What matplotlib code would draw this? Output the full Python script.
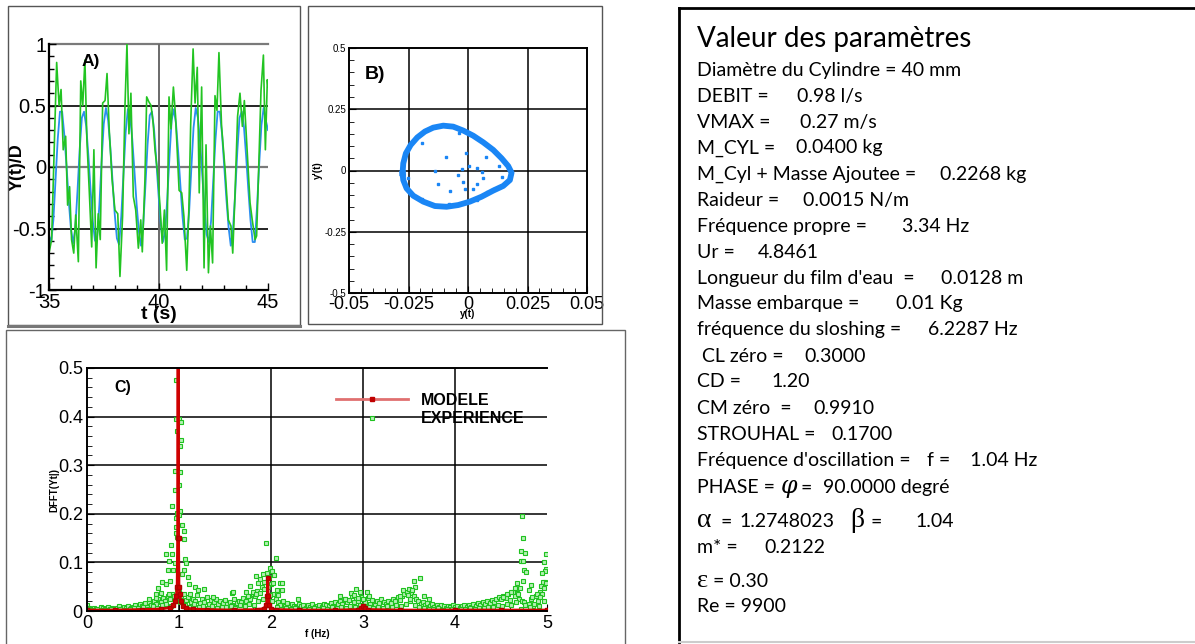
import numpy as np
import matplotlib.pyplot as plt
from matplotlib.patches import Rectangle
from matplotlib.lines import Line2D
from matplotlib.ticker import MultipleLocator

plt.rcParams['font.family'] = ['Liberation Sans', 'DejaVu Sans']

# ==========================
# Données A) : Y(t)/D
# ==========================
t_model = np.linspace(35, 45, 101)
y_model = [-0.56, -0.61, -0.43, -0.10, 0.23, 0.45, 0.45, 0.26, 0.01, -0.27,
           -0.50, -0.62, -0.50, -0.20, 0.14, 0.40, 0.45, 0.33, 0.09, -0.19,
           -0.44, -0.60, -0.56, -0.31, 0.04, 0.35, 0.48, 0.38, 0.16, -0.11,
           -0.38, -0.58, -0.63, -0.40, -0.06, 0.28, 0.47, 0.42, 0.23, -0.03,
           -0.30, -0.52, -0.64, -0.48, -0.16, 0.18, 0.42, 0.45, 0.30, 0.05,
           -0.22, -0.46, -0.61, -0.53, -0.26, 0.08, 0.38, 0.47, 0.35, 0.12,
           -0.15, -0.41, -0.59, -0.58, -0.36, -0.01, 0.32, 0.48, 0.40, 0.20,
           -0.07, -0.34, -0.55, -0.61, -0.44, -0.11, 0.22, 0.45, 0.45, 0.27,
           0.01, -0.26, -0.49, -0.64, -0.51, -0.22, 0.13, 0.40, 0.45, 0.33,
           0.09, -0.18, -0.43, -0.61, -0.61, -0.32, 0.03, 0.34, 0.48, 0.38,
           0.30]

t_exp = [35.0, 35.12, 35.35, 35.46, 35.55, 35.65, 35.76, 35.85, 35.94, 36.03,
         36.13, 36.22, 36.34, 36.45, 36.54, 36.64, 36.73, 36.84, 36.95, 37.05,
         37.15, 37.25, 37.34, 37.45, 37.56, 37.65, 37.75, 37.88, 38.01, 38.14,
         38.24, 38.36, 38.47, 38.56, 38.65, 38.74, 38.85, 38.96, 39.08, 39.19,
         39.26, 39.38, 39.46, 39.56, 39.66, 39.76, 39.84, 39.96, 40.07, 40.17,
         40.27, 40.37, 40.48, 40.57, 40.68, 40.78, 40.94, 41.06, 41.16, 41.29,
         41.39, 41.47, 41.58, 41.67, 41.77, 41.86, 41.97, 42.08, 42.17, 42.28,
         42.37, 42.47, 42.58, 42.67, 42.76, 42.88, 43.04, 43.19, 43.31, 43.39,
         43.49, 43.61, 43.72, 43.83, 43.92, 44.03, 44.18, 44.28, 44.41, 44.48,
         44.59, 44.68, 44.79, 44.88, 44.97, 45.0]
y_exp = [-0.70, -0.59, 0.85, 0.50, 0.63, 0.14, 0.25, -0.31, -0.16, -0.59,
         -0.70, -0.39, -0.77, 0.70, 0.50, 0.87, 0.22, -0.20, -0.65, 0.14,
         -0.82, -0.38, -0.59, 0.52, 0.54, 0.76, 0.30, -0.10, -0.35, -0.38,
         -0.89, -0.40, 0.50, 1.00, 0.27, 0.60, -0.24, -0.35, -0.66, -0.43,
         -0.69, -0.11, 0.57, 0.53, 0.50, 0.35, 0.14, -0.05, -0.32, -0.62,
         -0.35, -0.84, 0.57, 0.31, 0.65, 0.41, -0.19, -0.21, -0.40, -0.84,
         -0.32, 0.35, 0.96, 0.52, 0.81, -0.21, 0.65, -0.82, 0.18, -0.86,
         -0.48, -0.78, 0.58, 0.46, 0.93, 0.33, -0.02, -0.43, -0.48, -0.70,
         -0.24, 0.41, 0.60, 0.33, 0.54, 0.19, -0.29, -0.43, -0.59, -0.56,
         0.08, 0.62, 0.91, 0.14, 0.71, 0.65]

# ==========================
# Données B) : plan de phase
# ==========================
loop_y = [-0.0275, -0.0272, -0.0261, -0.0241, -0.0213, -0.0181, -0.0146, -0.0104,
          -0.0062, -0.0020, 0.0022, 0.0064, 0.0106, 0.0141, 0.0169, 0.0183,
          0.0176, 0.0148, 0.0106, 0.0057, 0.0008, -0.0041, -0.0090, -0.0139,
          -0.0188, -0.0230, -0.0258, -0.0272, -0.0275]
loop_dy = [-0.012, 0.029, 0.070, 0.104, 0.135, 0.159, 0.175, 0.183,
           0.179, 0.163, 0.142, 0.115, 0.084, 0.050, 0.018, -0.009,
           -0.039, -0.063, -0.082, -0.107, -0.127, -0.141, -0.148, -0.145,
           -0.127, -0.103, -0.073, -0.039, -0.012]
pts_y = [-0.0036, -0.0195, -0.0092, -0.0008, 0.0076, 0.0132, 0.0003, 0.0036,
         -0.0027, -0.0137, 0.0058, -0.0041, 0.0062, 0.0144, -0.0022, -0.0125,
         0.0038, -0.0253, -0.0011, 0.0020, -0.0074, 0.0111, 0.0081, -0.0079,
         0.0036, -0.0195]
pts_dy = [0.152, 0.114, 0.056, 0.073, 0.056, 0.020, 0.020, 0.010,
          0.006, -0.001, -0.005, -0.017, -0.029, -0.025, -0.046, -0.054,
          -0.054, -0.029, -0.074, -0.074, -0.082, -0.074, -0.086, -0.137,
          -0.120, -0.118]

# ==========================
# Données C) : DFFT
# ==========================
f_model = [0.0, 0.3, 0.6, 0.8, 0.9, 0.94, 0.96, 0.97, 0.98, 0.985, 0.99, 0.995,
           1.0, 1.01, 1.02, 1.04, 1.08, 1.15, 1.3, 1.6, 1.85, 1.92, 1.95, 1.96,
           1.965, 1.97, 1.98, 2.0, 2.05, 2.3, 2.7, 2.95, 2.98, 3.0, 3.02, 3.05,
           3.4, 4.0, 4.5, 5.0]
dfft_model = [0.002, 0.002, 0.003, 0.004, 0.007, 0.012, 0.020, 0.030, 0.050, 0.15,
              1.5, 0.15, 0.05, 0.035, 0.020, 0.010, 0.006, 0.004, 0.003, 0.002,
              0.003, 0.005, 0.012, 0.030, 0.067, 0.030, 0.012, 0.005, 0.003, 0.002,
              0.002, 0.003, 0.006, 0.010, 0.006, 0.003, 0.002, 0.002, 0.002, 0.002]

# bande de fond (pas 0.025 Hz)
f_bg = np.arange(200) * 0.025
dfft_bg = [0.012, 0.006, 0.004, 0.007, 0.005, 0.003, 0.008, 0.006, 0.004, 0.009,
           0.005, 0.007, 0.004, 0.006, 0.010, 0.005, 0.008, 0.006, 0.011, 0.007,
           0.008, 0.012, 0.006, 0.014, 0.010, 0.016, 0.009, 0.018, 0.013, 0.020,
           0.015, 0.024, 0.018, 0.027, 0.020, 0.030, 0.025, 0.035, 0.030, 0.045,
           0.040, 0.030, 0.035, 0.022, 0.028, 0.018, 0.025, 0.020, 0.032, 0.016,
           0.024, 0.019, 0.028, 0.015, 0.022, 0.018, 0.025, 0.014, 0.020, 0.017,
           0.022, 0.015, 0.019, 0.013, 0.024, 0.016, 0.020, 0.018, 0.026, 0.021,
           0.030, 0.025, 0.035, 0.030, 0.042, 0.038, 0.050, 0.045, 0.060, 0.070,
           0.055, 0.035, 0.025, 0.018, 0.012, 0.020, 0.010, 0.016, 0.009, 0.014,
           0.011, 0.008, 0.015, 0.010, 0.013, 0.007, 0.012, 0.009, 0.014, 0.008,
           0.011, 0.013, 0.009, 0.015, 0.012, 0.010, 0.016, 0.011, 0.018, 0.014,
           0.020, 0.015, 0.025, 0.018, 0.022, 0.030, 0.019, 0.026, 0.021, 0.028,
           0.024, 0.018, 0.027, 0.015, 0.022, 0.013, 0.020, 0.016, 0.024, 0.019,
           0.014, 0.021, 0.017, 0.025, 0.020, 0.028, 0.022, 0.030, 0.035, 0.040,
           0.045, 0.038, 0.030, 0.025, 0.020, 0.015, 0.018, 0.012, 0.016, 0.010,
           0.014, 0.009, 0.012, 0.008, 0.013, 0.010, 0.007, 0.011, 0.009, 0.012,
           0.008, 0.011, 0.007, 0.010, 0.013, 0.009, 0.012, 0.008, 0.014, 0.010,
           0.016, 0.012, 0.018, 0.014, 0.020, 0.016, 0.022, 0.018, 0.025, 0.028,
           0.024, 0.030, 0.026, 0.035, 0.022, 0.040, 0.030, 0.045, 0.025, 0.020,
           0.018, 0.012, 0.015, 0.025, 0.010, 0.030, 0.020, 0.040, 0.035, 0.060]

# bande basse (pas 0.05 Hz, décalée)
f_low = 0.0125 + np.arange(100) * 0.05
dfft_low = [0.004, 0.002, 0.005, 0.003, 0.002, 0.004, 0.003, 0.005, 0.002, 0.004,
            0.006, 0.003, 0.008, 0.005, 0.010, 0.007, 0.012, 0.015, 0.010, 0.020,
            0.018, 0.012, 0.009, 0.014, 0.008, 0.011, 0.007, 0.010, 0.006, 0.009,
            0.008, 0.011, 0.007, 0.012, 0.010, 0.015, 0.013, 0.020, 0.025, 0.030,
            0.020, 0.008, 0.005, 0.007, 0.004, 0.006, 0.003, 0.005, 0.004, 0.006,
            0.005, 0.007, 0.004, 0.008, 0.006, 0.009, 0.007, 0.010, 0.008, 0.012,
            0.010, 0.008, 0.006, 0.009, 0.007, 0.010, 0.008, 0.012, 0.010, 0.015,
            0.020, 0.012, 0.008, 0.006, 0.005, 0.004, 0.006, 0.003, 0.005, 0.004,
            0.003, 0.005, 0.004, 0.006, 0.005, 0.007, 0.006, 0.009, 0.008, 0.012,
            0.010, 0.015, 0.012, 0.018, 0.005, 0.012, 0.008, 0.015, 0.010, 0.020]

# points élevés (pics)
f_peak = [0.971, 0.971, 0.996, 1.025, 0.982, 1.018, 1.007, 0.960, 1.015, 0.996,
          0.953, 0.924, 1.011, 0.982, 0.996, 0.971, 1.033, 0.967, 1.058, 0.967,
          0.978, 1.054, 0.909, 0.862, 0.924, 0.891, 0.960, 1.065, 1.078, 0.877,
          0.938, 1.054, 1.033, 1.094, 0.812, 0.906, 0.862, 0.775, 1.109, 1.174,
          1.272, 0.803, 0.891, 0.746, 0.677, 0.750, 1.120, 1.210, 1.580, 1.366,
          1.942, 2.054, 1.989, 2.007, 1.953, 1.917, 1.833, 1.880, 2.036, 1.928,
          2.018, 2.098, 2.116, 1.855, 1.772, 1.971, 1.728, 1.808, 2.062, 2.123,
          1.583, 1.840, 1.990, 2.080, 2.297, 1.750,
          2.750, 2.870, 2.924, 2.970, 3.047, 2.900, 2.950, 3.000, 3.070, 2.800,
          3.554, 3.620, 3.560, 3.530, 3.440, 3.490, 3.660, 3.400, 3.720, 3.510,
          4.725, 4.736, 4.714, 4.757, 4.714, 4.736, 4.750, 4.770, 4.740, 4.993,
          4.964, 4.990, 4.975, 4.946, 4.960, 4.990, 4.930, 4.970, 4.890, 4.670,
          4.710, 4.650, 4.610, 4.830, 4.800, 4.690, 4.840, 4.920, 4.570, 4.520]
dfft_peak = [0.475, 0.396, 0.396, 0.388, 0.371, 0.352, 0.340, 0.288, 0.285, 0.259,
             0.250, 0.217, 0.206, 0.202, 0.197, 0.191, 0.176, 0.172, 0.164, 0.161,
             0.152, 0.148, 0.136, 0.117, 0.117, 0.102, 0.099, 0.107, 0.099, 0.084,
             0.084, 0.084, 0.076, 0.069, 0.060, 0.061, 0.056, 0.047, 0.056, 0.050,
             0.046, 0.038, 0.036, 0.036, 0.025, 0.027, 0.036, 0.043, 0.038, 0.028,
             0.139, 0.110, 0.088, 0.083, 0.079, 0.077, 0.072, 0.066, 0.075, 0.060,
             0.057, 0.057, 0.058, 0.057, 0.051, 0.050, 0.040, 0.040, 0.044, 0.043,
             0.040, 0.034, 0.032, 0.032, 0.024, 0.030,
             0.031, 0.038, 0.045, 0.040, 0.039, 0.032, 0.027, 0.024, 0.030, 0.024,
             0.062, 0.067, 0.050, 0.043, 0.043, 0.033, 0.031, 0.031, 0.024, 0.024,
             0.196, 0.151, 0.124, 0.119, 0.103, 0.103, 0.084, 0.081, 0.062, 0.117,
             0.101, 0.087, 0.082, 0.078, 0.060, 0.058, 0.051, 0.047, 0.036, 0.057,
             0.047, 0.047, 0.040, 0.054, 0.043, 0.035, 0.028, 0.028, 0.035, 0.029]

# ==========================
# Paramètres (texte)
# ==========================
param_title = "Valeur des paramètres"
param_labels = ["Diamètre du Cylindre = 40 mm", "DEBIT =", "VMAX =", "M_CYL =",
                "M_Cyl + Masse Ajoutee =", "Raideur =", "Fréquence propre =", "Ur =",
                "Longueur du film d'eau  =", "Masse embarque =", "fréquence du sloshing =",
                "CL zéro =", "CD =", "CM zéro  =", "STROUHAL =",
                "Fréquence d'oscillation =", "m* =", "Re = 9900"]
param_values = ["", "0.98 l/s", "0.27 m/s", "0.0400 kg", "0.2268 kg", "0.0015 N/m",
                "3.34 Hz", "4.8461", "0.0128 m", "0.01 Kg", "6.2287 Hz", "0.3000",
                "1.20", "0.9910", "0.1700", "f =    1.04 Hz", "0.2122", ""]
phase_txt = ["PHASE =", "φ", "=", "90.0000 degré"]
alpha_txt = ["α", "=", "1.2748023", "β", "=", "1.04"]
eps_txt = ["ε", "= 0.30"]

# ==========================
# Figure
# ==========================
W, H = 1195, 644
fig = plt.figure(figsize=(W / 100, H / 100), dpi=100)


def px_axes(left, top, right, bottom):
    return fig.add_axes([left / W, 1 - bottom / H, (right - left) / W, (bottom - top) / H])


def cadre(left, top, right, bottom, **kw):
    fig.add_artist(Rectangle((left / W, 1 - bottom / H), (right - left) / W,
                             (bottom - top) / H, transform=fig.transFigure,
                             fill=False, **kw))


def trait(x0, y0, x1, y1, **kw):
    fig.add_artist(Line2D([x0 / W, x1 / W], [1 - y0 / H, 1 - y1 / H],
                          transform=fig.transFigure, **kw))


def ftext(x, y, s, **kw):
    fig.text(x / W, 1 - y / H, s, va='baseline', **kw)


# cadres des sous-figures
cadre(8, 6, 300, 325, edgecolor='#555555', lw=1.0)
trait(8, 325.5, 300, 325.5, color='#777777', lw=2.2)
cadre(308, 6, 602, 324, edgecolor='#555555', lw=1.0)
cadre(6, 330, 625, 660, edgecolor='#666666', lw=1.0)
trait(679, 8, 679, 642, color='black', lw=2.0)
trait(679, 8, 1195, 8, color='black', lw=2.0)
trait(679, 642, 1195, 642, color='#cccccc', lw=1.5)

blue = '#2b8ef0'
green = '#22c422'

# ---------- A) ----------
axA = px_axes(49, 44, 268, 290)
axA.axhline(0.5, color='black', lw=1.2, zorder=0)
axA.axhline(-0.5, color='black', lw=1.2, zorder=0)
axA.axhline(0, color='#7a7a7a', lw=1.6, zorder=0)
axA.axhline(1, color='#7a7a7a', lw=1.6, zorder=0, clip_on=False)
axA.axvline(40, color='#6a6a6a', lw=1.4, zorder=0)
axA.plot(t_model, y_model, color=blue, lw=1.3)
axA.plot(t_exp, y_exp, color=green, lw=1.2)
axA.set_xlim(35, 45)
axA.set_ylim(-1, 1)
axA.set_xticks([35, 40, 45])
axA.set_yticks([-1, -0.5, 0, 0.5, 1])
axA.set_yticklabels(['-1', '-0.5', '0', '0.5', '1'])
axA.xaxis.set_minor_locator(MultipleLocator(1))
axA.yaxis.set_minor_locator(MultipleLocator(0.1))
axA.tick_params(which='both', direction='in', labelsize=14.5, pad=2)
axA.tick_params(which='major', length=5, width=1)
axA.tick_params(which='minor', length=3.5, width=1)
for s in ['top', 'right']:
    axA.spines[s].set_visible(False)
for s in ['left', 'bottom']:
    axA.spines[s].set_linewidth(1.6)
axA.set_xlabel("t (s)", fontsize=14, fontweight='bold', labelpad=-4)
axA.set_ylabel("Y(t)/D", fontsize=13, fontweight='bold')
axA.yaxis.set_label_coords(-0.105, 0.5)
axA.text(36.5, 0.86, "A)", fontsize=12.5, fontweight='bold', va='center')

# ---------- B) ----------
axB = px_axes(349, 48, 587, 293)
for v in [-0.25, 0, 0.25]:
    axB.axhline(v, color='black', lw=1.1, zorder=0)
for v in [-0.025, 0, 0.025]:
    axB.axvline(v, color='black', lw=1.1, zorder=0)
axB.plot(loop_y, loop_dy, color='#1a86f5', lw=4.2, solid_joinstyle='round')
axB.plot(pts_y, pts_dy, ls='none', marker='s', ms=1.6, color='#1a86f5')
axB.set_xlim(-0.05, 0.05)
axB.set_ylim(-0.5, 0.5)
axB.set_xticks([-0.05, -0.025, 0, 0.025, 0.05])
axB.set_xticklabels(['-0.05', '-0.025', '0', '0.025', '0.05'])
axB.set_yticks([-0.5, -0.25, 0, 0.25, 0.5])
axB.set_yticklabels(['-0.5', '-0.25', '0', '0.25', '0.5'])
axB.xaxis.set_minor_locator(MultipleLocator(0.005))
axB.yaxis.set_minor_locator(MultipleLocator(0.05))
axB.tick_params(which='both', direction='in', pad=2)
axB.tick_params(axis='x', labelsize=13)
axB.tick_params(axis='y', labelsize=7)
axB.tick_params(which='major', length=5)
axB.tick_params(which='minor', length=3.5)
for s in axB.spines.values():
    s.set_linewidth(1.4)
axB.set_xlabel("y(t)", fontsize=7, fontweight='bold', labelpad=-3)
axB.set_ylabel("y'(t)", fontsize=7, fontweight='bold', labelpad=1)
axB.text(-0.0435, 0.39, "B)", fontsize=14, fontweight='bold', va='center')

# ---------- C) ----------
axC = px_axes(87, 368, 547, 611)
for v in [0.1, 0.2, 0.3, 0.4]:
    axC.axhline(v, color='black', lw=1.1, zorder=0)
for v in [1, 2, 3, 4]:
    axC.axvline(v, color='black', lw=1.1, zorder=0)
mk = dict(ls='none', marker='s', ms=2.5, mfc='#b5f0b5', mec='#1fc21f', mew=0.8)
axC.plot(f_bg, dfft_bg, **mk)
axC.plot(f_low, dfft_low, **mk)
axC.plot(f_peak, dfft_peak, **mk)
axC.plot(f_model, dfft_model, color='#d00000', lw=2.0, marker='s', ms=2.2, mec='#b00000')
axC.set_xlim(0, 5)
axC.set_ylim(0, 0.5)
axC.set_xticks([0, 1, 2, 3, 4, 5])
axC.set_yticks([0, 0.1, 0.2, 0.3, 0.4, 0.5])
axC.set_yticklabels(['0', '0.1', '0.2', '0.3', '0.4', '0.5'])
axC.xaxis.set_minor_locator(MultipleLocator(0.2))
axC.yaxis.set_minor_locator(MultipleLocator(0.02))
axC.tick_params(which='both', direction='in', labelsize=13, pad=3)
axC.tick_params(which='major', length=5)
axC.tick_params(which='minor', length=3.5)
axC.spines['right'].set_visible(False)
for s in ['left', 'bottom', 'top']:
    axC.spines[s].set_linewidth(1.4)
axC.set_xlabel("f (Hz)", fontsize=7, fontweight='bold', labelpad=-2)
axC.set_ylabel("DFFT(Yt|)", fontsize=7, fontweight='bold', labelpad=-1)
axC.text(0.3, 0.459, "C)", fontsize=11.5, fontweight='bold', va='center')

handles = [Line2D([], [], color='#e07070', lw=2, marker='s', ms=2.5, mfc='#c00000', mec='#c00000'),
           Line2D([], [], **mk)]
axC.legend(handles, ["MODELE", "EXPERIENCE"], loc='upper left',
           bbox_to_anchor=((336 - 87) / 460, (611 - 393) / 243), frameon=False,
           prop={'size': 11.5, 'weight': 'bold'}, handlelength=4.5, handletextpad=0.8,
           labelspacing=0.2, borderpad=0, borderaxespad=0)

# ---------- Paramètres ----------
txt_font = 'Lato'
fs = 14
ftext(697, 47, param_title, fontsize=20, family=txt_font)
row_y = [76, 101.7, 127.7, 153.3, 180, 206, 231.7, 257.7, 284.3, 309.3,
         335, 361.7, 386.7, 414, 440, 465.7, 552.7, 611.7]
value_x = [0, 797, 800, 796, 940, 803, 902, 758, 941, 896,
           928, 804, 771, 813, 831, 927, 764, 0]
for i, lab in enumerate(param_labels):
    x0 = 702 if lab.startswith("CL") else 697
    ftext(x0, row_y[i], lab, fontsize=fs, family=txt_font)
    if param_values[i]:
        ftext(value_x[i], row_y[i], param_values[i], fontsize=fs, family=txt_font)

# PHASE
ftext(697, 493.3, phase_txt[0], fontsize=fs, family=txt_font)
ftext(781, 493.3, phase_txt[1], fontsize=17, family='DejaVu Serif', style='italic')
ftext(801, 493.3, phase_txt[2], fontsize=fs, family=txt_font)
ftext(823, 493.3, phase_txt[3], fontsize=fs, family=txt_font)
# alpha / beta
ftext(697, 527.3, alpha_txt[0], fontsize=20, family='Liberation Serif')
ftext(720, 527.3, alpha_txt[1], fontsize=fs, family=txt_font)
ftext(739, 527.3, alpha_txt[2], fontsize=fs, family=txt_font)
ftext(850, 527.3, alpha_txt[3], fontsize=20, family='Liberation Serif')
ftext(870, 527.3, alpha_txt[4], fontsize=fs, family=txt_font)
ftext(915, 527.3, alpha_txt[5], fontsize=fs, family=txt_font)
# epsilon
ftext(697, 586.7, eps_txt[0], fontsize=19, family='Liberation Serif')
ftext(713, 586.7, eps_txt[1], fontsize=fs, family=txt_font)

plt.savefig("out.png", dpi=100)
